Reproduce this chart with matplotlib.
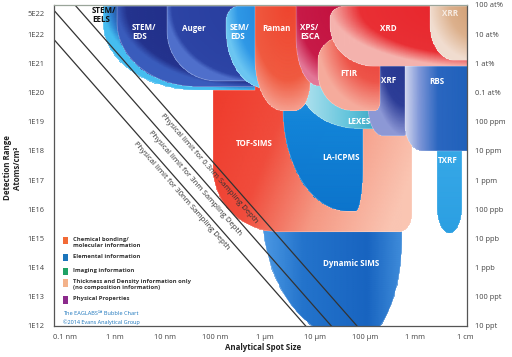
import numpy as np
import matplotlib
matplotlib.use('Agg')
import matplotlib.pyplot as plt
from matplotlib.path import Path
from matplotlib.patches import PathPatch, Rectangle
from matplotlib.colors import LinearSegmentedColormap
from matplotlib.ticker import NullLocator
import matplotlib.transforms as mtransforms

plt.rcParams['font.family'] = ['Open Sans', 'DejaVu Sans']

# ---------------- data ----------------
techniques = ['Dynamic SIMS', 'TOF-SIMS', 'LA-ICPMS', 'LEXES', 'TXRF', 'XRF', 'RBS',
              'STEM/EELS', 'STEM/EDS', 'Auger', 'SEM/EDS', 'Raman', 'XPS/ESCA',
              'FTIR', 'XRD', 'XRR']
spot_min_nm = [8.7e2, 9.1e1, 2.3e3, 5.0e3, 2.75e6, 1.15e5, 6.3e5,
               0.58, 1.1, 11, 166, 6.3e2, 4.2e3, 1.15e4, 2.0e4, 2.0e6]
spot_max_nm = [5.5e5, 8.7e5, 9.1e4, 5.0e5, 8.7e6, 6.6e5, 2.0e7,
               6.3e2, 6.3e2, 6.3e2, 1.6e3, 8.0e3, 5.0e4, 2.0e5, 2.0e7, 2.0e7]
det_min = [3.2e11, 1.7e15, 8.5e15, 5.8e18, 1.5e15, 3.3e18, 1.0e18,
           1.2e20, 1.6e20, 2.5e20, 1.4e20, 2.4e19, 1.7e20, 2.4e19, 7.9e20, 1.26e21]
det_max = [1.0e20, 3.0e20, 1.0e21, 1.0e21, 1.0e19, 1.0e22, 1.0e22,
           9.1e22, 9.1e22, 9.1e22, 9.1e22, 9.1e22, 9.1e22, 8.0e21, 9.1e22, 9.1e22]

sampling_depth_nm = [0.3, 3, 30]
limit_const = 20.915      # log10 atoms/cm3 at 1 nm spot, 1 nm depth
limit_slope = 1.95

x_ticks = [1e-1, 1, 10, 100, 1e3, 1e4, 1e5, 1e6, 1e7]
x_labels = ['0.1 nm', '1 nm', '10 nm', '100 nm', '1 µm', '10 µm', '100 µm', '1 mm', '1 cm']
y_ticks = [1e12, 1e13, 1e14, 1e15, 1e16, 1e17, 1e18, 1e19, 1e20, 1e21, 1e22, 5e22]
y_labels = ['1E12', '1E13', '1E14', '1E15', '1E16', '1E17', '1E18', '1E19', '1E20',
            '1E21', '1E22', '5E22']
r_ticks = [1e12, 1e13, 1e14, 1e15, 1e16, 1e17, 1e18, 1e19, 1e20, 1e21, 1e22, 1e23]
r_labels = ['10 ppt', '100 ppt', '1 ppb', '10 ppb', '100 ppb', '1 ppm', '10 ppm',
            '100 ppm', '0.1 at%', '1 at%', '10 at%', '100 at%']

legend_labels = ['Chemical bonding/\nmolecular information', 'Elemental information',
                 'Imaging information',
                 'Thickness and Density information only\n(no composition information)',
                 'Physical Properties']

# ---------------- styles ----------------
styles = {
    'Dynamic SIMS': dict(c={'bl': (1.85, 4.5), 'br': (0.9, 3.5)}, g=('h', None),
                         s=[(0, '#4d9ae4'), (0.3, '#2373cb'), (0.75, '#1864c0'), (1, '#3f8cda')]),
    'TOF-SIMS': dict(c={'bl': (1.3, 2.2), 'br': (0.25, 0.6)}, g=('mix', (0.85, 0.25)),
                     s=[(0, '#ee3a2b'), (0.35, '#f04c3c'), (0.65, '#f59883'), (1, '#fac5b2')]),
    'LA-ICPMS': dict(c={'bl': (1.3, 3.5), 'br': (0.15, 1.5)}, g=('v', None),
                     s=[(0, '#0c74cc'), (0.6, '#1284d8'), (1, '#2a9ae4')]),
    'LEXES': dict(c={'bl': (1.2, 1.5), 'br': (0.1, 0.2)}, g=('h', None),
                  s=[(0, '#b6e4f0'), (0.5, '#62c4dc'), (1, '#1b8fae')]),
    'TXRF': dict(c={'bl': (0.25, 0.9), 'br': (0.25, 0.9)}, g=('v', None),
                 s=[(0, '#2b9fe2'), (1, '#3aaae8')]),
    'XRF': dict(c={'bl': (0.3, 1.0), 'br': (0.05, 0.1)}, g=('r', (1, 1, 1, 1)),
                s=[(0, '#24338c'), (0.7, '#2d3d97'), (1, '#8d98d6')]),
    'RBS': dict(c={'bl': (0.35, 0.9)}, g=('h', None),
                s=[(0, '#d5d9f0'), (0.2, '#7f97d8'), (0.45, '#2a66c0'), (1, '#1c5fb8')]),
    'STEM/EELS': dict(c={'bl': (1.9, 2.3)}, g=('r', (1, 1, 1, 1)),
                      s=[(0, '#1c2470'), (0.86, '#1e2a7c'), (0.95, '#2f7fd0'), (1, '#45bdf0')]),
    'STEM/EDS': dict(c={'bl': (1.6, 2.2)}, g=('r', (1, 1, 1, 1)),
                     s=[(0, '#202c84'), (0.93, '#24338e'), (1, '#3a5cbc')]),
    'Auger': dict(c={'bl': (1.0, 1.7)}, g=('r', (1, 1, 1, 1)),
                  s=[(0, '#293d9e'), (0.94, '#2d45a6'), (1, '#5070cc')]),
    'SEM/EDS': dict(c={'bl': (0.8, 2.0), 'tl': (0.25, 0.5)}, g=('r', (1, 1, 1, 1)),
                    s=[(0, '#1f7fd8'), (0.75, '#2f98e6'), (1, '#6cc6f2')]),
    'Raman': dict(c={'bl': (0.55, 1.8), 'br': (0.3, 1.0)}, g=('r', (0.6, 1, 0.9, 1)),
                  s=[(0, '#ee452f'), (0.7, '#f05a40'), (1, '#f6a090')]),
    'XPS/ESCA': dict(c={'bl': (0.45, 1.6)}, g=('r', (0.8, 1, 1, 1)),
                     s=[(0, '#c2113e'), (0.75, '#c71a48'), (1, '#e37797')]),
    'FTIR': dict(c={'tl': (0.5, 0.8), 'bl': (0.7, 1.3), 'br': (0.1, 0.3)}, g=('r', (1, 1, 1, 1)),
                 s=[(0, '#ea3a36'), (0.6, '#ee5449'), (1, '#f6ab9c')]),
    'XRD': dict(c={'bl': (0.9, 1.4), 'tl': (0.3, 0.4)}, g=('r', (1, 1, 1, 1)),
                s=[(0, '#e6232a'), (0.8, '#e92f34'), (1, '#f5b3ae')]),
    'XRR': dict(c={'bl': (0.5, 1.2)}, g=('r', (1, 1, 1, 1)),
                s=[(0, '#cf9a6d'), (0.6, '#dcb08c'), (1, '#f1ddd0')]),
}

label_style = {
    'STEM/EELS': ('STEM/\nEELS', -0.46, 22.66, 'left', '#111111'),
    'STEM/EDS': ('STEM/\nEDS', 0.34, 22.07, 'left', 'white'),
    'Auger': ('Auger', 1.58, 22.21, 'center', 'white'),
    'SEM/EDS': ('SEM/\nEDS', 2.3, 22.07, 'left', 'white'),
    'Raman': ('Raman', 3.22, 22.21, 'center', 'white'),
    'XPS/ESCA': ('XPS/\nESCA', 3.7, 22.07, 'left', 'white'),
    'XRD': ('XRD', 5.46, 22.21, 'center', 'white'),
    'XRR': ('XRR', 6.7, 22.72, 'center', '#f7ece4'),
    'FTIR': ('FTIR', 4.68, 20.66, 'center', 'white'),
    'XRF': ('XRF', 5.48, 20.41, 'center', 'white'),
    'RBS': ('RBS', 6.44, 20.38, 'center', 'white'),
    'LEXES': ('LEXES', 4.88, 19.0, 'center', 'white'),
    'TOF-SIMS': ('TOF-SIMS', 2.78, 18.24, 'center', 'white'),
    'LA-ICPMS': ('LA-ICPMS', 4.52, 17.76, 'center', 'white'),
    'TXRF': ('TXRF', 6.66, 17.66, 'center', 'white'),
    'Dynamic SIMS': ('Dynamic SIMS', 4.72, 14.14, 'center', 'white'),
}
limit_label_y = [17.56, 17.08, 16.63]
legend_colors = ['#f26a36', '#1b75bb', '#1fa265', '#f3b28a', '#8c2a8c']
legend_y = [0.265, 0.212, 0.171, 0.134, 0.081]


def shape_path(x0, x1, y0, y1, r):
    def arc(cx, cy, rx, ry, a0, a1, n=50):
        if rx <= 0 or ry <= 0:
            return [(cx, cy)]
        a = np.radians(np.linspace(a0, a1, n))
        return list(zip(cx + rx * np.cos(a), cy + ry * np.sin(a)))
    bl = r.get('bl', (0, 0)); br = r.get('br', (0, 0))
    tr = r.get('tr', (0, 0)); tl = r.get('tl', (0, 0))
    pts = []
    pts += arc(x0 + bl[0], y0 + bl[1], bl[0], bl[1], 180, 270)
    pts += arc(x1 - br[0], y0 + br[1], br[0], br[1], 270, 360)
    pts += arc(x1 - tr[0], y1 - tr[1], tr[0], tr[1], 0, 90)
    pts += arc(x0 + tl[0], y1 - tl[1], tl[0], tl[1], 90, 180)
    pts.append(pts[0])
    v = 10 ** np.array(pts)
    codes = [Path.MOVETO] + [Path.LINETO] * (len(v) - 2) + [Path.CLOSEPOLY]
    return Path(v, codes)


def tfield(kind, U, V, p):
    if kind == 'h':
        t = U
    elif kind == 'v':
        t = V
    elif kind == 'mix':
        t = p[0] * U + p[1] * (1 - V)
    else:
        cu, cv, su, sv = p
        t = np.sqrt(((U - cu) / su) ** 2 + ((V - cv) / sv) ** 2)
    return np.clip(t, 0, 1)


fig = plt.figure(figsize=(5.12, 3.57), dpi=100)
ax = fig.add_axes([54 / 512, 31 / 357, 413 / 512, 321 / 357])
ax.set_xscale('log')
ax.set_yscale('log')
ax.set_xlim(10 ** -1.22, 10 ** 7.04)
ax.set_ylim(1e12, 1e23)

for i, name in enumerate(techniques):
    x0, x1 = np.log10(spot_min_nm[i]), np.log10(spot_max_nm[i])
    y0, y1 = np.log10(det_min[i]), np.log10(det_max[i])
    st = styles[name]
    z = 1 + i * 0.01
    path = shape_path(x0, x1, y0, y1, st['c'])
    patch = PathPatch(path, facecolor='none', edgecolor=(1, 1, 1, 0.35), lw=0.5, zorder=z + 0.005)
    ax.add_patch(patch)
    gx = np.linspace(x0, x1, 120)
    gy = np.linspace(y0, y1, 120)
    GX, GY = np.meshgrid(gx, gy)
    U = (GX - x0) / (x1 - x0)
    V = (GY - y0) / (y1 - y0)
    T = tfield(st['g'][0], U, V, st['g'][1])
    cmap = LinearSegmentedColormap.from_list(name, st['s'])
    m = ax.pcolormesh(10 ** GX, 10 ** GY, T, cmap=cmap, vmin=0, vmax=1,
                      shading='gouraud', zorder=z)
    m.set_clip_path(patch)
    txt, lx, ly, ha, col = label_style[name]
    ax.text(10 ** lx, 10 ** ly, txt, ha=ha, va='center', color=col, fontsize=5.8,
            fontweight='bold', linespacing=1.0, zorder=6)

# physical limit lines
lx = np.linspace(-1.3, 7.1, 200)
fig.canvas.draw()
for d, ly_lab in zip(sampling_depth_nm, limit_label_y):
    ly = limit_const - np.log10(d) - limit_slope * lx
    ax.plot(10 ** lx, 10 ** ly, color='#333333', lw=0.9, zorder=5)
    xa = (limit_const - np.log10(d) - ly_lab) / limit_slope
    p1 = ax.transData.transform((10 ** xa, 10 ** ly_lab))
    p2 = ax.transData.transform((10 ** (xa + 0.5), 10 ** (ly_lab - limit_slope * 0.5)))
    ang = np.degrees(np.arctan2(p2[1] - p1[1], p2[0] - p1[0]))
    nx, ny = np.sin(np.radians(ang)), -np.cos(np.radians(ang))
    tr = mtransforms.offset_copy(ax.transData, fig=fig, x=nx * 5.6, y=ny * 5.6, units='points')
    ax.text(10 ** xa, 10 ** ly_lab, f'Physical limit for {d:g}nm Sampling Depth',
            transform=tr, rotation=ang, rotation_mode='anchor', ha='center', va='center',
            fontsize=5.6, color='#333333', zorder=6)

# axes styling
ax.set_xticks(x_ticks)
ax.set_xticklabels(x_labels)
ax.set_yticks(y_ticks)
ax.set_yticklabels(y_labels)
ax.xaxis.set_minor_locator(NullLocator())
ax.yaxis.set_minor_locator(NullLocator())
ax.tick_params(length=0, labelsize=5.4, labelcolor='#444444')
ax.tick_params(axis='x', pad=6)
ax.tick_params(axis='y', pad=7)
for sp in ax.spines.values():
    sp.set_color('#555555')
    sp.set_linewidth(0.9)
    sp.set_zorder(7)
ax.spines['top'].set_color('#9aa59a')

ax2 = ax.twinx()
ax2.set_yscale('log')
ax2.set_ylim(1e12, 1e23)
ax2.set_yticks(r_ticks)
ax2.set_yticklabels(r_labels)
ax2.yaxis.set_minor_locator(NullLocator())
ax2.tick_params(length=0, labelsize=5.4, labelcolor='#444444', pad=6)
for sp in ax2.spines.values():
    sp.set_visible(False)

fig.text(263 / 512, 1 - 347 / 357, 'Analytical Spot Size', ha='center', va='center',
         fontsize=5.7, fontweight='bold', color='#222222')
fig.text(8 / 512, 1 - 168 / 357, 'Detection Range', ha='center', va='center', rotation=90,
         fontsize=5.7, fontweight='bold', color='#222222')
fig.text(18 / 512, 1 - 168 / 357, 'Atoms/cm³', ha='center', va='center', rotation=90,
         fontsize=5.7, fontweight='bold', color='#222222')

# legend
for lab, col, y in zip(legend_labels, legend_colors, legend_y):
    ax.add_patch(Rectangle((0.022, y - 0.011), 0.012, 0.022, transform=ax.transAxes,
                           facecolor=col, edgecolor='none', zorder=6))
    ax.text(0.046, y + 0.011, lab, transform=ax.transAxes, ha='left', va='top',
            fontsize=4.2, fontweight='bold', color='#333333', linespacing=1.1, zorder=6)
ax.text(0.022, 0.040, 'The EAGLABS\u2120 Bubble Chart', transform=ax.transAxes, ha='left',
        va='center', fontsize=4.1, color='#1b75bc', zorder=6)
ax.text(0.022, 0.012, '\u00a92014 Evans Analytical Group', transform=ax.transAxes, ha='left',
        va='center', fontsize=4.0, color='#1b75bc', zorder=6)

fig.savefig('out.png', dpi=100)
